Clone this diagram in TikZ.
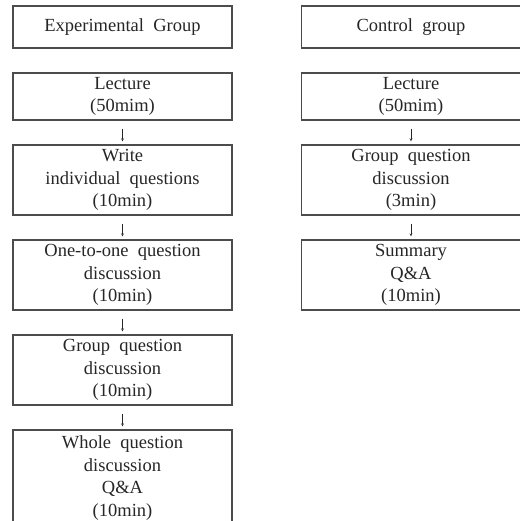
\documentclass[tikz,border=0pt]{standalone}
\usepackage{fontspec}
\setmainfont[WordSpace=2]{Liberation Serif}
\usetikzlibrary{positioning}

\begin{document}
\begin{tikzpicture}[x=1pt, y=-1pt, draw=black!75]
\tikzstyle{stage}=[rectangle, draw=black!70, line width=1.1pt, text=black!85, align=center, minimum width=219pt, inner sep=2pt, font=\fontsize{18.5pt}{22.5pt}\selectfont]
\tikzstyle{head stage}=[stage, minimum height=42pt];
\tikzstyle{short stage}=[stage, minimum height=47pt];
\tikzstyle{long stage}=[stage, minimum height=70pt];
\tikzstyle{flow} = [->, >=stealth, black!85, thin, shorten <=8pt, shorten >=3pt]

\useasboundingbox (0, 0) rectangle (519, 521);

% Experimental group column
\node[head stage] (ehead) at (122.5, 27) {Experimental Group};
\node[short stage] (e1) at (122.5, 96.5) {Lecture\\(50mim)};
\node[long stage] (e2) at (122.5, 180) {Write\\individual questions\\(10min)};
\node[long stage] (e3) at (122.5, 275) {One-to-one question\\discussion\\(10min)};
\node[long stage] (e4) at (122.5, 370) {Group question\\discussion\\(10min)};
\node[stage, minimum height=96pt] (e5) at (122.5, 478) {Whole question\\discussion\\Q\&A\\(10min)};

% Control group column
\node[head stage] (chead) at (411, 27) {Control group};
\node[short stage] (c1) at (411, 96.5) {Lecture\\(50mim)};
\node[long stage] (c2) at (411, 180) {Group question\\discussion\\(3min)};
\node[long stage] (c3) at (411, 275) {Summary\\Q\&A\\(10min)};

% Arrows between the steps
\foreach \a/\b in {e1/e2, e2/e3, e3/e4, e4/e5, c1/c2, c2/c3}
    \draw [flow] (\a) -- (\b);

\end{tikzpicture}
\end{document}
